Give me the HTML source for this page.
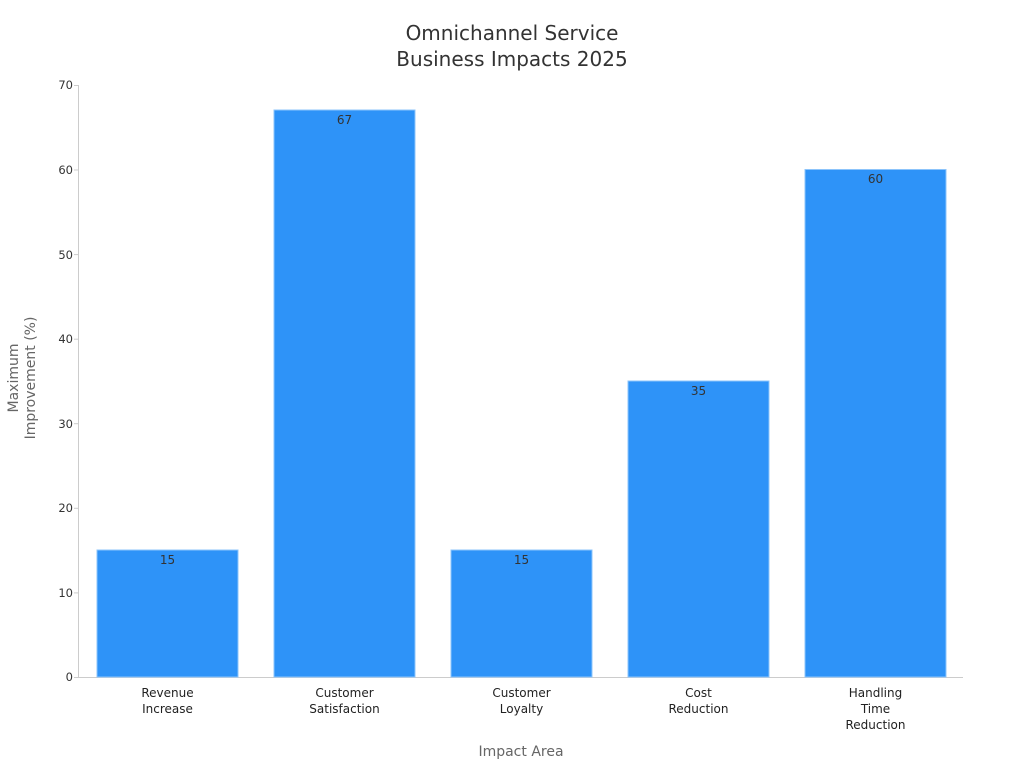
<!DOCTYPE html>
<html><head><meta charset="utf-8"><style>
body{margin:0;background:#fff;}
svg text{font-family:"DejaVu Sans","Liberation Sans",sans-serif;}
</style></head><body>
<svg width="1024" height="768" xmlns="http://www.w3.org/2000/svg">
<rect width="1024" height="768" fill="#fff"/>
<text x="512" y="40" text-anchor="middle" font-size="20" fill="#333">Omnichannel Service</text>
<text x="512" y="66" text-anchor="middle" font-size="20" fill="#333">Business Impacts 2025</text>
<g stroke="#ccc" stroke-width="1">
<line x1="78.5" y1="85" x2="78.5" y2="677"/>
<line x1="78" y1="677.5" x2="963" y2="677.5"/>
<line x1="74" y1="677.5" x2="78" y2="677.5"/>
<line x1="74" y1="592.9" x2="78" y2="592.9"/>
<line x1="74" y1="508.3" x2="78" y2="508.3"/>
<line x1="74" y1="423.7" x2="78" y2="423.7"/>
<line x1="74" y1="339.2" x2="78" y2="339.2"/>
<line x1="74" y1="254.6" x2="78" y2="254.6"/>
<line x1="74" y1="170" x2="78" y2="170"/>
<line x1="74" y1="85.5" x2="78" y2="85.5"/>
</g>
<g font-size="11.5" fill="#333" text-anchor="end">
<text x="73" y="681">0</text>
<text x="73" y="597">10</text>
<text x="73" y="512">20</text>
<text x="73" y="428">30</text>
<text x="73" y="343">40</text>
<text x="73" y="259">50</text>
<text x="73" y="174">60</text>
<text x="73" y="89">70</text>
</g>
<g fill="#2e93f8" stroke="#8cc4fb" stroke-width="1">
<rect x="97" y="550" width="141" height="127"/>
<rect x="274" y="110" width="141" height="567"/>
<rect x="451" y="550" width="141" height="127"/>
<rect x="628" y="381" width="141" height="296"/>
<rect x="805" y="169.5" width="141" height="507.5"/>
</g>
<g font-size="12" fill="#333" text-anchor="middle">
<text x="167.5" y="564">15</text>
<text x="344.5" y="124">67</text>
<text x="521.5" y="564">15</text>
<text x="698.5" y="395">35</text>
<text x="875.5" y="183">60</text>
</g>
<g font-size="12" fill="#222" text-anchor="middle">
<text x="167.5" y="697">Revenue</text><text x="167.5" y="713">Increase</text>
<text x="344.5" y="697">Customer</text><text x="344.5" y="713">Satisfaction</text>
<text x="521.5" y="697">Customer</text><text x="521.5" y="713">Loyalty</text>
<text x="698.5" y="697">Cost</text><text x="698.5" y="713">Reduction</text>
<text x="875.5" y="697">Handling</text><text x="875.5" y="713">Time</text><text x="875.5" y="729">Reduction</text>
</g>
<text x="521" y="756" text-anchor="middle" font-size="14" fill="#666">Impact Area</text>
<g transform="translate(18,378) rotate(-90)"><text x="0" y="0" text-anchor="middle" font-size="14" fill="#666">Maximum</text></g>
<g transform="translate(35,378) rotate(-90)"><text x="0" y="0" text-anchor="middle" font-size="14" fill="#666">Improvement (%)</text></g>
</svg>
</body></html>
